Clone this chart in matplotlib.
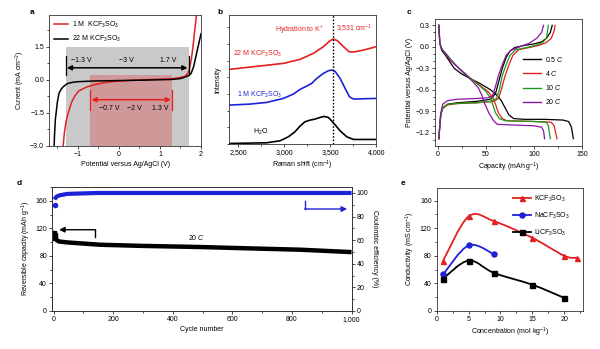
import numpy as np
import matplotlib.pyplot as plt
from matplotlib.path import Path
from matplotlib.patches import PathPatch, Rectangle
from matplotlib.lines import Line2D
from matplotlib.ticker import MultipleLocator, FuncFormatter, NullFormatter

plt.rcParams['font.family'] = ['Liberation Sans', 'DejaVu Sans']
plt.rcParams['mathtext.fontset'] = 'custom'
plt.rcParams['mathtext.rm'] = 'Liberation Sans'
plt.rcParams['mathtext.it'] = 'Liberation Sans:italic'
plt.rcParams['mathtext.bf'] = 'Liberation Sans:bold'
plt.rcParams['font.size'] = 5
plt.rcParams['axes.linewidth'] = 0.6
plt.rcParams['axes.edgecolor'] = '#333333'
for a in ('xtick', 'ytick'):
    plt.rcParams[a + '.major.width'] = 0.5
    plt.rcParams[a + '.minor.width'] = 0.5
    plt.rcParams[a + '.major.size'] = 2.2
    plt.rcParams[a + '.minor.size'] = 1.3
    plt.rcParams[a + '.major.pad'] = 1.5
    plt.rcParams[a + '.labelsize'] = 5
plt.rcParams['axes.labelpad'] = 2

RED = '#e3201f'
BLUE = '#1e22d6'
GREEN = '#1c9a1c'
PURPLE = '#8a16a8'

# ---- a: LSV of 1 M and 22 M KCF3SO3
a_22m_x = [-1.58, -1.57, -1.55, -1.50, -1.46, -1.40, -1.35, -1.28, -1.23, -1.10, -0.99,
           -0.60, 0.0, 0.63, 1.28, 1.50, 1.60, 1.70, 1.76, 1.82, 1.88, 1.94, 2.0]
a_22m_y = [-3.0, -2.5, -1.8, -1.0, -0.6, -0.4, -0.3, -0.2, -0.15, -0.1, -0.08,
           -0.05, -0.03, -0.01, 0.02, 0.06, 0.12, 0.2, 0.3, 0.6, 1.1, 1.6, 2.1]
a_1m_x = [-1.36, -1.33, -1.28, -1.22, -1.15, -1.08, -0.98, -0.85, -0.75, -0.60, -0.40,
          -0.18, 0.3, 0.8, 1.28, 1.45, 1.60, 1.68, 1.72, 1.77, 1.81, 1.85, 1.89]
a_1m_y = [-3.0, -2.4, -1.8, -1.4, -1.0, -0.75, -0.5, -0.38, -0.3, -0.22, -0.14,
          -0.08, -0.02, 0.02, 0.05, 0.1, 0.15, 0.3, 0.5, 1.0, 1.6, 2.3, 2.95]

# ---- b: Raman spectra (intensity offset, arbitrary units)
b_h2o_x = [2400, 2807, 2953, 3044, 3116, 3171, 3225, 3280, 3334, 3389, 3433, 3480, 3534,
           3607, 3680, 3753, 4000]
b_h2o_y = [0.02, 0.04, 0.10, 0.22, 0.37, 0.54, 0.67, 0.72, 0.75, 0.80, 0.83, 0.80, 0.64,
           0.40, 0.22, 0.14, 0.14]
b_1m_x = [2400, 2625, 2807, 2989, 3098, 3171, 3244, 3298, 3353, 3425, 3480, 3516, 3553,
          3607, 3662, 3709, 3753, 3862, 4000]
b_1m_y = [1.17, 1.20, 1.25, 1.37, 1.50, 1.64, 1.74, 1.82, 1.97, 2.12, 2.20, 2.22, 2.18,
          1.97, 1.67, 1.42, 1.35, 1.36, 1.37]
b_22m_x = [2400, 2989, 3171, 3316, 3425, 3498, 3534, 3578, 3644, 3705, 3753, 3862, 4000]
b_22m_y = [2.24, 2.42, 2.54, 2.72, 2.92, 3.10, 3.15, 3.10, 2.92, 2.77, 2.76, 2.82, 2.92]
b_peak = 3531

# ---- c: charge/discharge profiles at different rates
c_rates = ['0.5 $C$', '4 $C$', '10 $C$', '20 $C$']
c_colors = ['black', RED, GREEN, PURPLE]
c_dis_x = [
    [1, 2, 4, 8, 12, 17, 25, 35, 45, 55, 62, 66, 70, 74, 79, 90, 110, 130, 136, 139, 141],
    [1, 2, 4, 8, 14, 22, 35, 45, 52, 57, 60, 63, 67, 72, 100, 118, 121, 124],
    [1, 2, 4, 9, 15, 22, 35, 44, 50, 54, 57, 60, 64, 70, 100, 113, 115, 117],
    [1, 2, 4, 9, 18, 28, 36, 42, 46, 49, 53, 58, 62, 80, 100, 108, 110, 111],
]
c_dis_y = [
    [0.3, 0.05, -0.05, -0.12, -0.2, -0.3, -0.38, -0.45, -0.52, -0.6, -0.68, -0.75, -0.85,
     -0.95, -1.0, -1.01, -1.01, -1.02, -1.04, -1.12, -1.28],
    [0.3, 0.05, -0.03, -0.1, -0.2, -0.3, -0.45, -0.55, -0.62, -0.7, -0.8, -0.92, -1.0,
     -1.03, -1.04, -1.05, -1.1, -1.28],
    [0.3, 0.05, -0.03, -0.1, -0.2, -0.3, -0.45, -0.55, -0.62, -0.7, -0.8, -0.92, -1.0,
     -1.03, -1.04, -1.05, -1.1, -1.28],
    [0.3, 0.05, -0.03, -0.12, -0.25, -0.38, -0.48, -0.57, -0.68, -0.8, -0.92, -1.03, -1.08,
     -1.09, -1.1, -1.12, -1.17, -1.28],
]
c_chg_x = [
    [1, 2, 3, 5, 10, 20, 40, 55, 60, 63, 67, 71, 75, 80, 90, 100, 108, 113, 117, 119],
    [1, 2, 3, 5, 10, 20, 40, 58, 63, 66, 70, 74, 78, 84, 95, 105, 113, 118, 121, 122],
    [1, 2, 3, 5, 10, 20, 40, 55, 61, 64, 67, 71, 75, 81, 92, 102, 109, 113, 115],
    [1, 2, 3, 5, 10, 20, 40, 52, 57, 60, 63, 67, 71, 76, 85, 95, 103, 108, 110],
]
c_chg_y = [
    [-1.28, -1.1, -0.95, -0.85, -0.8, -0.78, -0.76, -0.73, -0.65, -0.5, -0.3, -0.15, -0.06,
     -0.01, 0.02, 0.04, 0.07, 0.12, 0.2, 0.3],
    [-1.28, -1.1, -0.95, -0.86, -0.81, -0.79, -0.78, -0.76, -0.72, -0.6, -0.4, -0.25, -0.12,
     -0.04, -0.01, 0.02, 0.06, 0.12, 0.22, 0.3],
    [-1.28, -1.1, -0.95, -0.85, -0.8, -0.79, -0.78, -0.76, -0.72, -0.6, -0.4, -0.25, -0.12,
     -0.04, -0.01, 0.02, 0.06, 0.12, 0.3],
    [-1.28, -1.1, -0.92, -0.8, -0.75, -0.73, -0.72, -0.71, -0.68, -0.55, -0.4, -0.25, -0.12,
     -0.05, 0.0, 0.05, 0.12, 0.2, 0.3],
]

# ---- d: cycling at 20 C
d_cyc = [1, 3, 6, 10, 17, 45, 156, 300, 492, 650, 827, 1000]
d_cap = [113, 110, 106, 103, 101, 99.6, 96.2, 94.5, 92.9, 91.0, 89.0, 85.5]
d_ce_cyc = [3, 5, 10, 20, 45, 80, 150, 400, 700, 1000]
d_ce = [94.4, 95.5, 97.0, 98.0, 99.2, 99.5, 100, 100, 100, 100]
d_first_cyc, d_first_ce = 5, 89.5

# ---- e: conductivity vs concentration
e_salts = ['KCF$_3$SO$_3$', 'NaCF$_3$SO$_3$', 'LiCF$_3$SO$_3$']
e_conc = [[1, 5, 9, 15, 20, 22], [1, 5, 9], [1, 5, 9, 15, 20]]
e_cond = [[73, 137, 130, 106, 80, 77], [53, 95, 82], [47, 73, 55, 38, 19]]
e_colors = [RED, BLUE, 'black']
e_markers = ['^', 'o', 's']


def smooth_line(ax, x, y, **kw):
    pts = np.column_stack([x, y]).astype(float)
    p = np.vstack([pts[0], pts, pts[-1]])
    verts, codes = [pts[0]], [Path.MOVETO]
    for i in range(1, len(p) - 2):
        verts += [p[i] + (p[i + 1] - p[i - 1]) / 6, p[i + 1] - (p[i + 2] - p[i]) / 6, p[i + 1]]
        codes += [Path.CURVE4] * 3
    ax.add_patch(PathPatch(Path(verts, codes), fill=False, **kw))


fig = plt.figure(figsize=(6, 3.49), dpi=100)
axa = fig.add_axes([0.082, 0.582, 0.253, 0.375])
axb = fig.add_axes([0.382, 0.587, 0.245, 0.370])
axc = fig.add_axes([0.725, 0.582, 0.245, 0.364])
axd = fig.add_axes([0.087, 0.109, 0.499, 0.355])
axe = fig.add_axes([0.728, 0.109, 0.244, 0.352])

for lab, x, y in [('a', 0.05, 0.975), ('b', 0.362, 0.975), ('c', 0.678, 0.975),
                  ('d', 0.028, 0.483), ('e', 0.667, 0.483)]:
    fig.text(x, y, lab, fontsize=6, fontweight='bold', va='top')

# a
axa.add_patch(Rectangle((-1.3, -3), 3.0, 4.5, facecolor='#c9c9c9', edgecolor='none', zorder=0))
axa.add_patch(Rectangle((-0.7, -3), 2.0, 3.2, facecolor=RED, alpha=0.28, edgecolor='none', zorder=0))
axa.plot(a_1m_x, a_1m_y, color=RED, lw=1.1, label='1 M  KCF$_3$SO$_3$')
axa.plot(a_22m_x, a_22m_y, color='black', lw=1.1, label='22 M KCF$_3$SO$_3$')
axa.plot([-1.3, -1.3], [0.2, 1.1], color='black', lw=0.9)
axa.plot([1.7, 1.7], [0.2, 1.1], color='black', lw=0.9)
axa.annotate('', xy=(-1.27, 0.55), xytext=(1.67, 0.55),
             arrowprops=dict(arrowstyle='<|-|>', color='black', lw=1.1, mutation_scale=7,
                             shrinkA=0, shrinkB=0))
axa.plot([-0.7, -0.7], [-0.45, -1.35], color=RED, lw=0.9)
axa.plot([1.3, 1.3], [-0.45, -1.35], color=RED, lw=0.9)
axa.annotate('', xy=(-0.67, -0.9), xytext=(1.27, -0.9),
             arrowprops=dict(arrowstyle='<|-|>', color=RED, lw=1.1, mutation_scale=7,
                             shrinkA=0, shrinkB=0))
for t, x in [('\u22121.3 V', -0.91), ('\u22123 V', 0.18), ('1.7 V', 1.2)]:
    axa.text(x, 0.87, t, ha='center', va='center', fontsize=5)
for t, x in [('\u22120.7 V', -0.24), ('\u22122 V', 0.37), ('1.3 V', 1.0)]:
    axa.text(x, -1.32, t, ha='center', va='center', fontsize=5)
axa.set_xlim(-1.7, 2.0)
axa.set_ylim(-3.0, 2.95)
axa.xaxis.set_major_locator(MultipleLocator(1))
axa.xaxis.set_minor_locator(MultipleLocator(0.5))
axa.yaxis.set_major_locator(MultipleLocator(1.5))
axa.yaxis.set_minor_locator(MultipleLocator(0.75))
axa.yaxis.set_major_formatter(FuncFormatter(lambda v, p: f'{v:.1f}'.replace('-', '\u2212')))
axa.set_xlabel('Potential versus Ag/AgCl (V)')
axa.set_ylabel('Current (mA cm$^{-2}$)')
axa.legend(loc='upper left', frameon=False, fontsize=5, handlelength=2.0, handletextpad=0.6,
           labelspacing=0.6, borderaxespad=0.3)

# b
axb.plot(b_22m_x, b_22m_y, color=RED, lw=1.2)
axb.plot(b_1m_x, b_1m_y, color=BLUE, lw=1.2)
axb.plot(b_h2o_x, b_h2o_y, color='black', lw=1.2)
axb.axvline(b_peak, color='black', lw=1.0, ls=(0, (1.2, 1.2)))
axb.text(3160, 3.44, 'Hydration to K$^{+}$', color=RED, ha='center', va='center', fontsize=5)
axb.text(3563, 3.44, '3,531 cm$^{-1}$', color=RED, ha='left', va='center', fontsize=5)
axb.text(2444, 2.7, '22 M KCF$_3$SO$_3$', color=RED, ha='left', va='center', fontsize=5)
axb.text(2487, 1.49, '1 M KCF$_3$SO$_3$', color=BLUE, ha='left', va='center', fontsize=5)
axb.text(2655, 0.37, 'H$_2$O', color='black', ha='left', va='center', fontsize=5)
axb.set_xlim(2400, 4000)
axb.set_ylim(0, 3.87)
axb.xaxis.set_major_locator(MultipleLocator(500))
axb.xaxis.set_minor_locator(MultipleLocator(250))
axb.xaxis.set_major_formatter(FuncFormatter(lambda v, p: f'{v:,.0f}'))
axb.yaxis.set_major_locator(MultipleLocator(0.5))
axb.yaxis.set_major_formatter(NullFormatter())
axb.tick_params(axis='y', length=1.3)
axb.set_xlabel('Raman shift (cm$^{-1}$)')
axb.set_ylabel('Intensity', labelpad=3)

# c
for i in range(4):
    axc.plot(c_dis_x[i], c_dis_y[i], color=c_colors[i], lw=0.9)
    axc.plot(c_chg_x[i], c_chg_y[i], color=c_colors[i], lw=0.9)
handles = [Line2D([], [], color=c, lw=1.0) for c in c_colors]
axc.legend(handles, c_rates, loc='upper left', bbox_to_anchor=(0.58, 0.74), frameon=False,
           fontsize=5, handlelength=2.6, handletextpad=0.5, labelspacing=0.75, borderaxespad=0)
axc.set_xlim(-3, 150)
axc.set_ylim(-1.38, 0.39)
axc.xaxis.set_major_locator(MultipleLocator(50))
axc.xaxis.set_minor_locator(MultipleLocator(25))
axc.yaxis.set_major_locator(MultipleLocator(0.3))
axc.yaxis.set_minor_locator(MultipleLocator(0.1))
axc.yaxis.set_major_formatter(FuncFormatter(lambda v, p: f'{v:.1f}'.replace('-', '\u2212')))
axc.set_xlabel('Capacity (mAh g$^{-1}$)')
axc.set_ylabel('Potential versus Ag/AgCl (V)')

# d
axd.plot(d_cyc, d_cap, color='black', lw=3.2, solid_capstyle='butt')
axd.plot(d_cyc[:3], d_cap[:3], 's', color='black', ms=2.5)
axd2 = axd.twinx()
axd2.plot(d_ce_cyc, d_ce, color=BLUE, lw=3.0, solid_capstyle='butt')
axd2.plot(d_first_cyc, d_first_ce, 'o', color=BLUE, ms=3)
axd.plot([140, 140], [108, 118], color='black', lw=1.0)
axd.annotate('', xy=(18, 118), xytext=(140.4, 118),
             arrowprops=dict(arrowstyle='-|>', color='black', lw=1.0, mutation_scale=8,
                             shrinkA=0, shrinkB=0))
axd2.plot([843, 843], [93, 86.4], color=BLUE, lw=1.0)
axd2.annotate('', xy=(985, 86.4), xytext=(842.6, 86.4),
              arrowprops=dict(arrowstyle='-|>', color=BLUE, lw=1.0, mutation_scale=8,
                              shrinkA=0, shrinkB=0))
axd.text(480, 106, '20 $C$', ha='center', va='center', fontsize=5)
axd.set_xlim(-5, 1000)
axd.set_ylim(0, 180)
axd2.set_ylim(0, 105)
axd.xaxis.set_major_locator(MultipleLocator(200))
axd.xaxis.set_minor_locator(MultipleLocator(100))
axd.xaxis.set_major_formatter(FuncFormatter(lambda v, p: f'{v:,.0f}'))
axd.yaxis.set_major_locator(MultipleLocator(40))
axd.yaxis.set_minor_locator(MultipleLocator(20))
axd2.yaxis.set_major_locator(MultipleLocator(20))
axd2.yaxis.set_minor_locator(MultipleLocator(10))
axd.set_xlabel('Cycle number')
axd.set_ylabel('Reversible capacity (mAh g$^{-1}$)')
axd2.set_ylabel('Coulombic efficiency (%)', rotation=270, labelpad=7)

# e
for i in range(3):
    smooth_line(axe, e_conc[i], e_cond[i], edgecolor=e_colors[i], lw=1.3)
    axe.plot(e_conc[i], e_cond[i], e_markers[i], color=e_colors[i], ms=3.6)
handles = [Line2D([], [], color=e_colors[i], marker=e_markers[i], ms=3.6, lw=1.3)
           for i in range(3)]
axe.legend(handles, e_salts, loc='upper left', bbox_to_anchor=(0.5, 0.98), frameon=False,
           fontsize=5, handlelength=2.6, handletextpad=0.5, labelspacing=1.0, borderaxespad=0)
axe.set_xlim(0, 23)
axe.set_ylim(0, 178)
axe.xaxis.set_major_locator(MultipleLocator(5))
axe.xaxis.set_minor_locator(MultipleLocator(2.5))
axe.yaxis.set_major_locator(MultipleLocator(40))
axe.yaxis.set_minor_locator(MultipleLocator(20))
axe.set_xlabel('Concentration (mol kg$^{-1}$)')
axe.set_ylabel('Conductivity (mS cm$^{-1}$)')

fig.savefig('out.png', dpi=100)
